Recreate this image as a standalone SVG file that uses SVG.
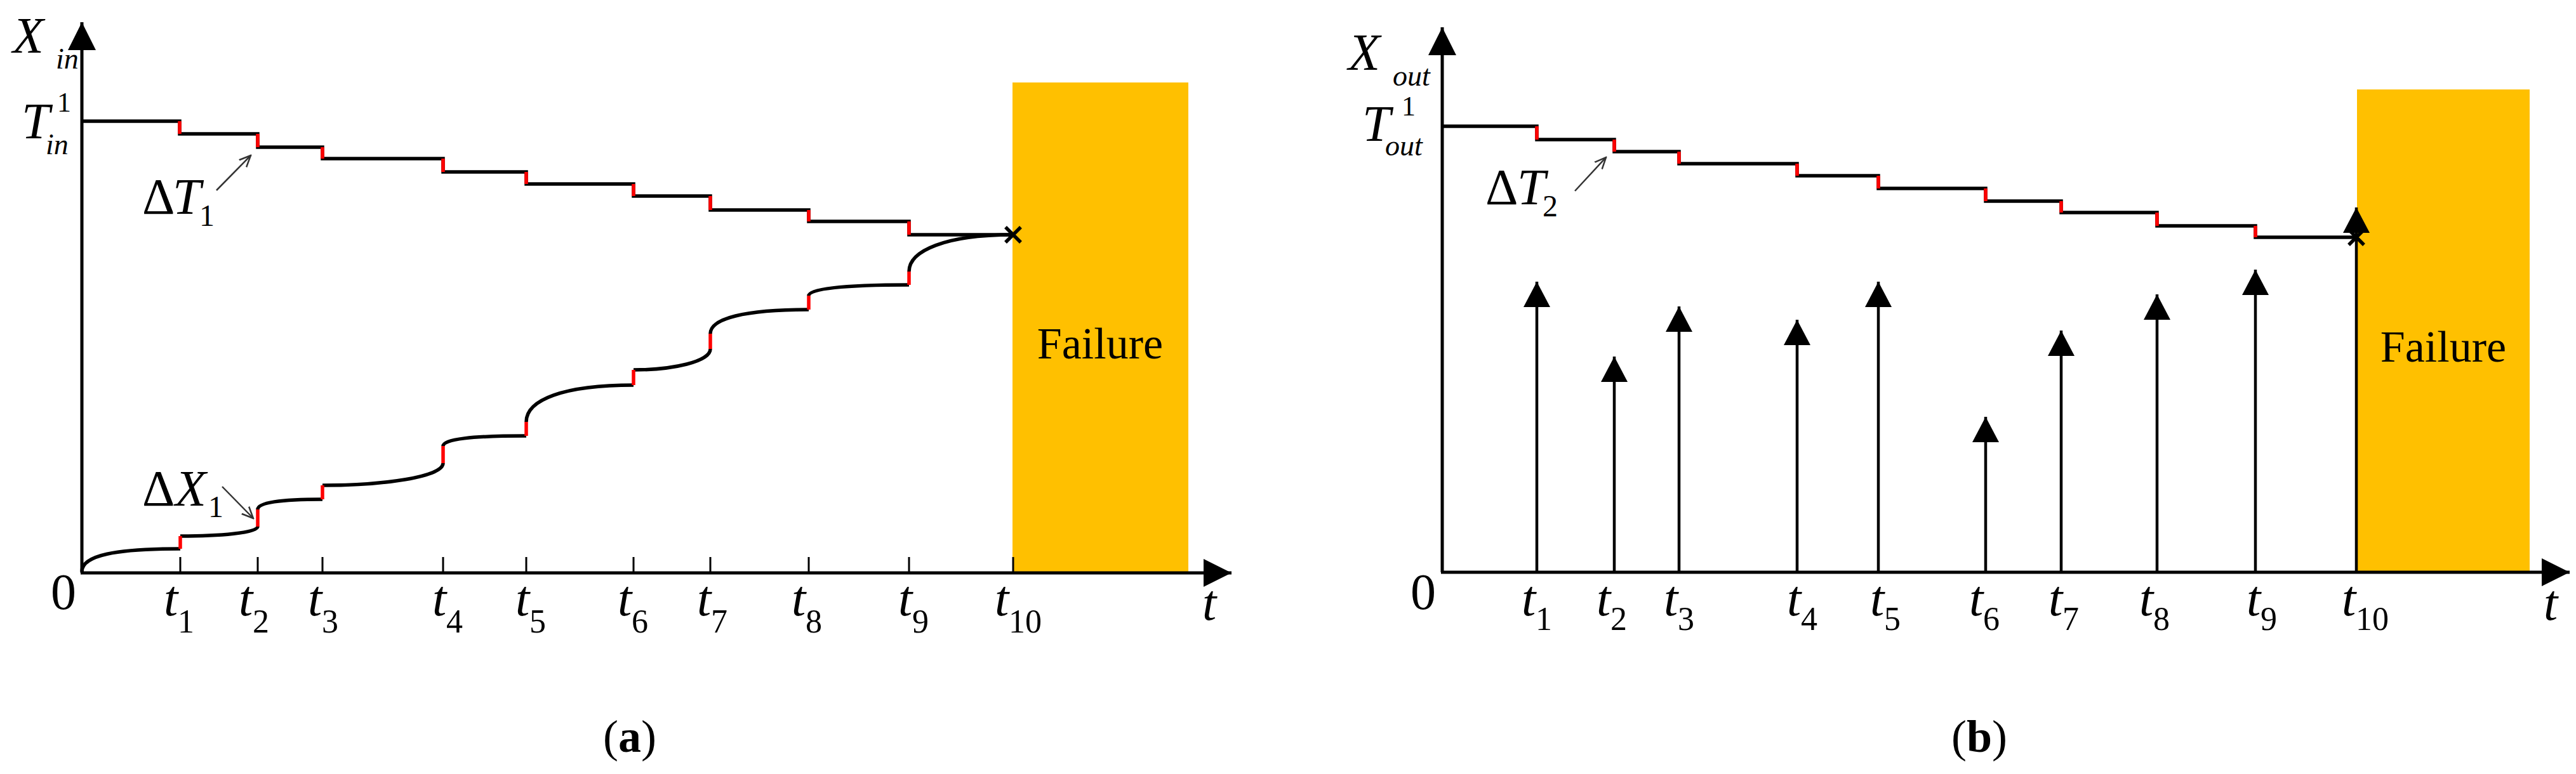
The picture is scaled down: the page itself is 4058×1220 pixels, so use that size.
<svg xmlns="http://www.w3.org/2000/svg" width="4058" height="1220" viewBox="0 0 4058 1220">
<style>
.ax{stroke:#000;stroke-width:5;fill:none}
.st{stroke:#000;stroke-width:5.5;fill:none}
.rd{stroke:#f00;stroke-width:5.5;fill:none}
.tk{stroke:#000;stroke-width:3}
.imp{stroke:#000;stroke-width:4.5;fill:none}
.thin{stroke:#333;stroke-width:2.5;fill:none}
.fail{fill:#FFC000}
.m{font-family:"Liberation Serif","Times New Roman",serif;font-style:italic;fill:#000}
.n{font-family:"Liberation Serif","Times New Roman",serif;fill:#000}
</style>
<defs>
<marker id="ah" markerUnits="userSpaceOnUse" markerWidth="44" markerHeight="44" viewBox="0 0 44 44" refX="44" refY="22" orient="auto"><path d="M0,0 L44,22 L0,44 z" fill="#000"/></marker>
<marker id="ai" markerUnits="userSpaceOnUse" markerWidth="40" markerHeight="42" viewBox="0 0 40 42" refX="40" refY="21" orient="auto"><path d="M0,0 L40,21 L0,42 z" fill="#000"/></marker>
<marker id="ao" markerUnits="userSpaceOnUse" markerWidth="20" markerHeight="20" viewBox="0 0 20 20" refX="18" refY="10" orient="auto"><path d="M0,2 L18,10 L0,18" fill="none" stroke="#333" stroke-width="2.5"/></marker>
</defs>

<g id="panel-a">
<g id="failure-a"><rect class="fail" x="1595" y="130" width="277" height="773"/><text class="n" x="1733" y="565" font-size="70" text-anchor="middle">Failure</text></g>
<g id="axes-a">
<line class="ax" x1="129" y1="903" x2="129" y2="35" marker-end="url(#ah)"/>
<line class="ax" x1="127" y1="903" x2="1940" y2="903" marker-end="url(#ah)"/>
<g class="tk"><line x1="284" y1="878" x2="284" y2="903"/><line x1="406" y1="878" x2="406" y2="903"/><line x1="508" y1="878" x2="508" y2="903"/><line x1="698" y1="878" x2="698" y2="903"/><line x1="829" y1="878" x2="829" y2="903"/><line x1="998" y1="878" x2="998" y2="903"/><line x1="1119" y1="878" x2="1119" y2="903"/><line x1="1274" y1="878" x2="1274" y2="903"/><line x1="1432" y1="878" x2="1432" y2="903"/><line x1="1596" y1="878" x2="1596" y2="903"/></g>
</g>
<g id="stair-a">
<path class="st" d="M129,191 H283 V211 H406 V232 H508 V250 H698 V271 H829 V290 H998 V309 H1119 V331 H1274 V349 H1432 V370 H1596"/>
<path class="rd" d="M283,191V211 M406,211V232 M508,232V250 M698,250V271 M829,271V290 M998,290V309 M1119,309V331 M1274,331V349 M1432,349V370"/>
<path class="st" d="M1584,358 L1608,382 M1608,358 L1584,382" stroke-width="4"/>
</g>
<g id="curve-a">
<path class="st" d="M129,901 C129,875 183,865 284,865 M284,845 C345,845 406,840 406,830 M406,803 C406,792 442,787 508,787 M508,765 C603,765 698,752 698,730 M698,703 C698,692 744,687 829,687 M829,665 C829,630 888,607 998,607 M998,583 C1060,583 1119,570 1119,550 M1119,526 C1119,502 1173,488 1274,488 M1274,466 C1274,455 1330,449 1432,449 M1432,428 C1432,395 1490,370 1596,370"/>
<path class="rd" d="M284,865V845 M406,830V803 M508,787V765 M698,730V703 M829,687V665 M998,607V583 M1119,550V526 M1274,488V466 M1432,449V428"/>
</g>
<g id="labels-a">
<text class="m" x="20" y="83" font-size="80">X</text><text class="m" x="88" y="108" font-size="46">in</text>
<text class="m" x="34" y="218" font-size="80">T</text><text class="n" x="90" y="176" font-size="44">1</text><text class="m" x="72" y="243" font-size="46">in</text>
<text class="n" x="224" y="337" font-size="80">Δ</text><text class="m" x="272" y="337" font-size="80">T</text><text class="n" x="314" y="356" font-size="48">1</text>
<line class="thin" x1="341" y1="300" x2="395" y2="245" marker-end="url(#ao)"/>
<text class="n" x="224" y="797" font-size="80">Δ</text><text class="m" x="276" y="797" font-size="80">X</text><text class="n" x="328" y="815" font-size="48">1</text>
<line class="thin" x1="350" y1="767" x2="399" y2="817" marker-end="url(#ao)"/>
<text class="n" x="80" y="960" font-size="80">0</text>
<g font-size="80" class="m"><text x="258" y="970">t</text><text x="376" y="970">t</text><text x="485" y="970">t</text><text x="681" y="970">t</text><text x="812" y="970">t</text><text x="973" y="970">t</text><text x="1098" y="970">t</text><text x="1247" y="970">t</text><text x="1415" y="970">t</text><text x="1567" y="970">t</text><text x="1894" y="977">t</text></g>
<g font-size="52" class="n"><text x="280" y="997">1</text><text x="398" y="997">2</text><text x="507" y="997">3</text><text x="703" y="997">4</text><text x="834" y="997">5</text><text x="995" y="997">6</text><text x="1120" y="997">7</text><text x="1269" y="997">8</text><text x="1437" y="997">9</text><text x="1589" y="997">10</text></g>
<text class="n" x="992" y="1185" font-size="72" text-anchor="middle">(<tspan font-weight="bold">a</tspan>)</text>
</g>
</g>

<g id="panel-b">
<g id="failure-b"><rect class="fail" x="3713" y="141" width="272" height="761"/><text class="n" x="3849" y="570" font-size="70" text-anchor="middle">Failure</text></g>
<g id="axes-b">
<line class="ax" x1="2272" y1="902" x2="2272" y2="43" marker-end="url(#ah)"/>
<line class="ax" x1="2270" y1="902" x2="4048" y2="902" marker-end="url(#ah)"/>
</g>
<g id="stair-b">
<path class="st" d="M2272,199 H2421 V220 H2543 V239 H2645 V258 H2831 V277 H2959 V297 H3128 V317 H3247 V335 H3398 V356 H3553 V374 H3712"/>
<path class="rd" d="M2421,199V220 M2543,220V239 M2645,239V258 M2831,258V277 M2959,277V297 M3128,297V317 M3247,317V335 M3398,335V356 M3553,356V374"/>
<path class="st" d="M3700,362 L3724,386 M3724,362 L3700,386" stroke-width="4"/>
</g>
<g id="impulses">
<line class="imp" x1="2421" y1="902" x2="2421" y2="444" marker-end="url(#ai)"/>
<line class="imp" x1="2543" y1="902" x2="2543" y2="562" marker-end="url(#ai)"/>
<line class="imp" x1="2645" y1="902" x2="2645" y2="483" marker-end="url(#ai)"/>
<line class="imp" x1="2831" y1="902" x2="2831" y2="504" marker-end="url(#ai)"/>
<line class="imp" x1="2959" y1="902" x2="2959" y2="444" marker-end="url(#ai)"/>
<line class="imp" x1="3128" y1="902" x2="3128" y2="657" marker-end="url(#ai)"/>
<line class="imp" x1="3247" y1="902" x2="3247" y2="521" marker-end="url(#ai)"/>
<line class="imp" x1="3398" y1="902" x2="3398" y2="464" marker-end="url(#ai)"/>
<line class="imp" x1="3553" y1="902" x2="3553" y2="425" marker-end="url(#ai)"/>
<line class="imp" x1="3712" y1="902" x2="3712" y2="327" marker-end="url(#ai)"/>
</g>
<g id="labels-b">
<text class="m" x="2124" y="110" font-size="82">X</text><text class="m" x="2194" y="135" font-size="46">out</text>
<text class="m" x="2146" y="222" font-size="80">T</text><text class="n" x="2208" y="182" font-size="44">1</text><text class="m" x="2182" y="245" font-size="46">out</text>
<text class="n" x="2340" y="322" font-size="80">Δ</text><text class="m" x="2390" y="322" font-size="80">T</text><text class="n" x="2430" y="341" font-size="48">2</text>
<line class="thin" x1="2481" y1="301" x2="2530" y2="248" marker-end="url(#ao)"/>
<text class="n" x="2222" y="960" font-size="80">0</text>
<g font-size="80" class="m"><text x="2397" y="970">t</text><text x="2515" y="970">t</text><text x="2621" y="970">t</text><text x="2815" y="970">t</text><text x="2946" y="970">t</text><text x="3102" y="970">t</text><text x="3227" y="970">t</text><text x="3370" y="970">t</text><text x="3539" y="970">t</text><text x="3689" y="970">t</text><text x="4007" y="977">t</text></g>
<g font-size="52" class="n"><text x="2419" y="993">1</text><text x="2537" y="993">2</text><text x="2643" y="993">3</text><text x="2837" y="993">4</text><text x="2968" y="993">5</text><text x="3124" y="993">6</text><text x="3249" y="993">7</text><text x="3392" y="993">8</text><text x="3561" y="993">9</text><text x="3711" y="993">10</text></g>
<text class="n" x="3118" y="1185" font-size="72" text-anchor="middle">(<tspan font-weight="bold">b</tspan>)</text>
</g>
</g>
</svg>
